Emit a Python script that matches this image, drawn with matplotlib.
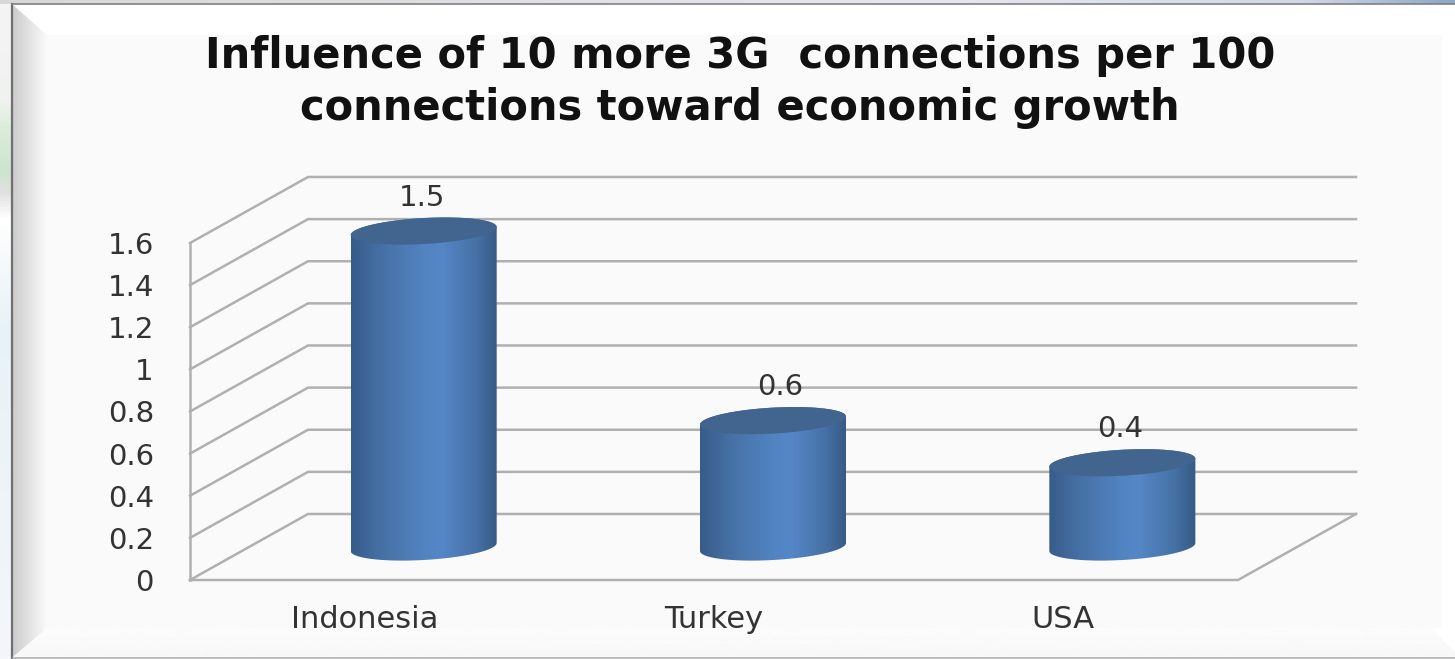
import numpy as np
import matplotlib
matplotlib.use('Agg')
import matplotlib.pyplot as plt
from matplotlib.colors import LinearSegmentedColormap
from matplotlib.patches import Polygon

countries = ['Indonesia', 'Turkey', 'USA']
influence = [1.5, 0.6, 0.4]
value_labels = ['1.5', '0.6', '0.4']
y_ticks = [0, 0.2, 0.4, 0.6, 0.8, 1.0, 1.2, 1.4, 1.6]
y_tick_labels = ['0', '0.2', '0.4', '0.6', '0.8', '1', '1.2', '1.4', '1.6']
chart_title = 'Influence of 10 more 3G  connections per 100\nconnections toward economic growth'

W, H = 1455, 659
GRID = '#b0b0b0'
TEXT = '#333333'

# depth of the floor in data units, and cylinder size
DEPTH_X = 118 / 349.3
DEPTH_Y = 66 / 210.6
RX = 73 / 349.3
RY = 13 / 210.6
TILT = 4 / 210.6

body_cmap = LinearSegmentedColormap.from_list(
    'body', [(0, '#375c8a'), (0.2, '#4670a4'), (0.5, '#5284c2'), (0.62, '#5586c6'),
             (0.85, '#4672a6'), (1, '#375a85')])


def depth(x, v, d):
    return x + d * DEPTH_X, v + d * DEPTH_Y


def rim(cx, cy, t):
    return cx + RX * np.cos(t), cy + RY * np.sin(t) + TILT * np.cos(t)


def gradient(ax, img, extent, clip=None, cmap='gray', zorder=1, vmin=0, vmax=1):
    im = ax.imshow(img, extent=extent, aspect='auto', cmap=cmap, vmin=vmin, vmax=vmax,
                   interpolation='bilinear', zorder=zorder)
    if clip is not None:
        patch = Polygon(clip, closed=True, transform=ax.transData, fc='none', ec='none')
        ax.add_patch(patch)
        im.set_clip_path(patch)
        # tall cylinders rise above the axes box
        im.set_clip_box(ax.figure.bbox)
    return im


fig = plt.figure(figsize=(W / 100, H / 100), dpi=100, facecolor='white')

# frame behind the chart, in pixel units
bg = fig.add_axes([0, 0, 1, 1], zorder=0)
strip = LinearSegmentedColormap.from_list(
    'strip', [(0, '#f4f4f4'), (0.15, '#f0f2f0'), (0.2, '#d8ecd8'), (0.26, '#cfe4cf'),
              (0.29, '#e0e0e0'), (0.33, '#ffffff'), (0.5, '#e8f2f6'), (1, '#f4f6fa')])
gradient(bg, np.linspace(0, 1, 200)[:, None], (0, 13, H, 0), cmap=strip, zorder=1)
top_strip = LinearSegmentedColormap.from_list(
    'top', [(0, '#d8d8d8'), (0.65, '#e6e6ee'), (0.9, '#d0d8e6'), (1, '#8ea8c8')])
gradient(bg, np.linspace(0, 1, 300)[None, :], (0, W, 4, 0), cmap=top_strip, zorder=1)

bg.add_patch(Polygon([(12, 4), (W, 4), (W, H), (12, H)], fc='#ffffff', ec='none', zorder=2))
left_bevel = [(13, 5), (47, 35), (47, 628), (13, 657)]
gradient(bg, np.linspace(0.8, 0.98, 100)[None, :], (13, 47, H, 0), clip=left_bevel, zorder=3)
bottom_bevel = [(13, 657), (47, 628), (1430, 628), (W, 652), (W, 657)]
gradient(bg, np.linspace(0.985, 0.97, 40)[:, None], (0, W, 657, 628), clip=bottom_bevel, zorder=3)
bg.add_patch(Polygon([(47, 35), (1442, 35), (1442, 628), (47, 628)], fc='#fafafa', ec='none', zorder=4))
bg.plot([12, 12], [4, H], color='#707070', lw=1.6, zorder=5)
bg.plot([12, W], [4, 4], color='#808080', lw=1.2, zorder=5)
bg.plot([13, W], [657.5, 657.5], color='#b0b0b0', lw=1.2, zorder=5)
bg.set_xlim(0, W)
bg.set_ylim(H, 0)
bg.axis('off')

# front plane of the 3D box: x 190-1238 px, y 580-243 px
ax = fig.add_axes([190 / W, 1 - 580 / H, 1048 / W, 337 / H], zorder=1)
ax.patch.set_visible(False)

for v in y_ticks:
    x1, y1 = depth(0, v, 1)
    x2, y2 = depth(3, v, 1)
    ax.plot([0, x1, x2], [v, y1, y2], color=GRID, lw=1.8, clip_on=False, zorder=1,
            solid_joinstyle='miter')
ax.plot([0, 0], [0, 1.6], color=GRID, lw=1.8, clip_on=False, zorder=1)
ax.plot([0, 3, depth(3, 0, 1)[0]], [0, 0, depth(3, 0, 1)[1]], color=GRID, lw=1.8,
        clip_on=False, zorder=1)

# cylinders stand at mid depth
label_nudge = [-2, 7, -2]
for i, val in enumerate(influence):
    cx, base = depth(i + 0.5, 0, 0.5)
    top = base + val
    lower = rim(cx, base, np.linspace(np.pi, 2 * np.pi, 60))
    upper = rim(cx, top, np.linspace(0, np.pi, 60))
    outline = np.column_stack([np.r_[lower[0], upper[0]], np.r_[lower[1], upper[1]]])
    gradient(ax, np.linspace(0, 1, 200)[None, :],
             (cx - RX, cx + RX, base - 2 * RY, top + 2 * RY),
             clip=outline, cmap=body_cmap, zorder=2)
    tx, ty = rim(cx, top, np.linspace(0, 2 * np.pi, 120))
    ax.fill(tx, ty, color='#41658f', ec='none', zorder=3, clip_on=False)
    ax.annotate(value_labels[i], (cx, top), xytext=(label_nudge[i] * 0.72, 24),
                textcoords='offset points', ha='center', va='center',
                fontsize=21, color=TEXT, zorder=4, annotation_clip=False)

ax.set_xlim(0, 3)
ax.set_ylim(0, 1.6)
ax.set_xticks([i + 0.5 for i in range(len(countries))])
ax.set_xticklabels(countries, fontsize=22, color=TEXT)
ax.set_yticks(y_ticks)
ax.set_yticklabels(y_tick_labels, fontsize=21, color=TEXT)
ax.tick_params(axis='x', length=0, pad=18)
ax.tick_params(axis='y', length=0, pad=26)
for side in ax.spines.values():
    side.set_visible(False)

fig.text(740 / W, 1 - 82 / H, chart_title, ha='center', va='center', fontsize=30,
         fontweight='bold', color='#111111', linespacing=1.33)

fig.savefig('out.png', dpi=100)
